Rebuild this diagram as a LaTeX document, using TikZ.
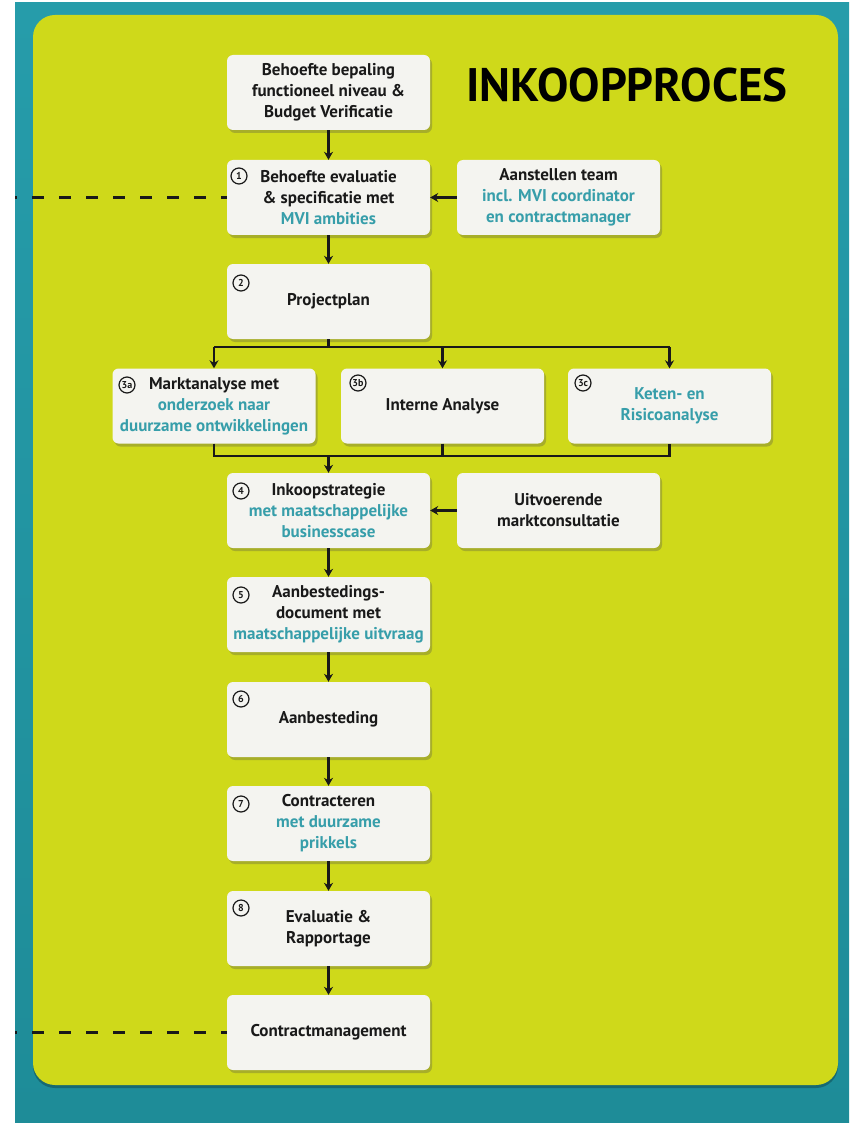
\documentclass[tikz,border=0pt]{standalone}
\usepackage{fontspec}
\setmainfont{PT Sans}
\usetikzlibrary{shadows,arrows.meta,calc}
\definecolor{tealbg}{RGB}{38,156,170}
\definecolor{tealdk}{RGB}{30,140,152}
\definecolor{yel}{RGB}{207,217,26}
\definecolor{boxw}{RGB}{244,244,240}
\definecolor{tt}{RGB}{55,158,170}
\definecolor{ink}{RGB}{25,25,25}
\newcommand{\tl}[1]{\textcolor{tt}{#1}}
\tikzset{
  stepbox/.style={rounded corners=6pt, fill=boxw, minimum width=203pt, minimum height=75pt,
    align=center, text=ink, font=\bfseries\fontsize{17}{21}\selectfont, inner sep=0pt,
    drop shadow={shadow xshift=2pt, shadow yshift=-3pt, opacity=0.3, fill=black!70}},
  numc/.style={circle, draw=ink, line width=1.2pt, inner sep=0pt, minimum size=16pt,
    text=ink, font=\bfseries\fontsize{10}{10}\selectfont},
  conn/.style={draw=ink, line width=2.6pt},
  arr/.style={conn, -{Stealth[length=8pt,width=9pt]}},
  dashline/.style={draw=ink, line width=3.5pt, dash pattern=on 12pt off 15pt, dash phase=10pt}
}
\begin{document}
\begin{tikzpicture}[x=1pt,y=-1pt]
\useasboundingbox (0,0) rectangle (849,1123);
\fill[white] (0,0) rectangle (849,1123);
\shade[top color=tealbg, bottom color=tealdk] (15,3) rectangle (849,1123);
\fill[yel, drop shadow={shadow xshift=0pt, shadow yshift=-3pt, opacity=0.25, fill=black}] (33,15) [rounded corners=22pt] rectangle (838,1085);

\node[font=\bfseries\fontsize{47}{50}\selectfont, text=black] (title) at (627,85) {INKOOPPROCES};

\node[stepbox] (b0) at (328.5,92.5) {Behoefte bepaling\\functioneel niveau \&\\Budget Verificatie};
\node[stepbox] (b1) at (328.5,197.5) {Behoefte evaluatie\\\& specificatie met\\\tl{MVI ambities}};
\node[stepbox] (team) at (558.5,197.5) {Aanstellen team\\\tl{incl. MVI coordinator}\\\tl{en contractmanager}};
\node[stepbox] (b2) at (328.5,301.5) {Projectplan};
\node[stepbox] (b3a) at (214,406) {Marktanalyse met\\\tl{onderzoek naar}\\\tl{duurzame ontwikkelingen}};
\node[stepbox] (b3b) at (442.5,406) {Interne Analyse};
\node[stepbox] (b3c) at (669.5,406) {\tl{Keten- en}\\\tl{Risicoanalyse}};
\node[stepbox] (b4) at (328.5,510.5) {Inkoopstrategie\\\tl{met maatschappelijke}\\\tl{businesscase}};
\node[stepbox] (mc) at (558.5,510.5) {Uitvoerende\\marktconsultatie};
\node[stepbox] (b5) at (328.5,614.5) {Aanbestedings-\\document met\\\tl{maatschappelijke uitvraag}};
\node[stepbox] (b6) at (328.5,719.5) {Aanbesteding};
\node[stepbox] (b7) at (328.5,823.5) {Contracteren\\\tl{met duurzame}\\\tl{prikkels}};
\node[stepbox] (b8) at (328.5,928.5) {Evaluatie \&\\Rapportage};
\node[stepbox] (cm) at (328.5,1032.5) {Contractmanagement};

\node[numc] (n1) at (239,176) {1};
\node[numc] (n2) at (241,283) {2};
\node[numc] (n3a) at (127,385) {3a};
\node[numc] (n3b) at (358,383) {3b};
\node[numc] (n3c) at (583,383) {3c};
\node[numc] (n4) at (241,491) {4};
\node[numc] (n5) at (241,595) {5};
\node[numc] (n6) at (241,699) {6};
\node[numc] (n7) at (241,804) {7};
\node[numc] (n8) at (241,908) {8};

\coordinate (d1) at (15,197.5);
\coordinate (d2) at (15,1032.5);
\draw[dashline] (d1) -- (b1.west);
\draw[dashline] (d2) -- (cm.west);

\draw[arr] (b0) -- (b1);
\draw[arr] (team) -- (b1);
\draw[arr] (b1) -- (b2);
\coordinate (split) at (328.5,347);
\draw[conn] (b2.south) -- (split);
\draw[conn] (b3a.north |- split) -- (b3c.north |- split);
\draw[arr] (b3a.north |- split) -- (b3a.north);
\draw[arr] (b3b.north |- split) -- (b3b.north);
\draw[arr] (b3c.north |- split) -- (b3c.north);
\coordinate (join) at (328.5,456);
\draw[conn] (b3a.south) -- (b3a.south |- join) -- (b3c.south |- join) -- (b3c.south);
\draw[conn] (b3b.south) -- (b3b.south |- join);
\draw[arr] (join) -- (b4.north);
\draw[arr] (mc) -- (b4);
\draw[arr] (b4) -- (b5);
\draw[arr] (b5) -- (b6);
\draw[arr] (b6) -- (b7);
\draw[arr] (b7) -- (b8);
\draw[arr] (b8) -- (cm);
\end{tikzpicture}
\end{document}
